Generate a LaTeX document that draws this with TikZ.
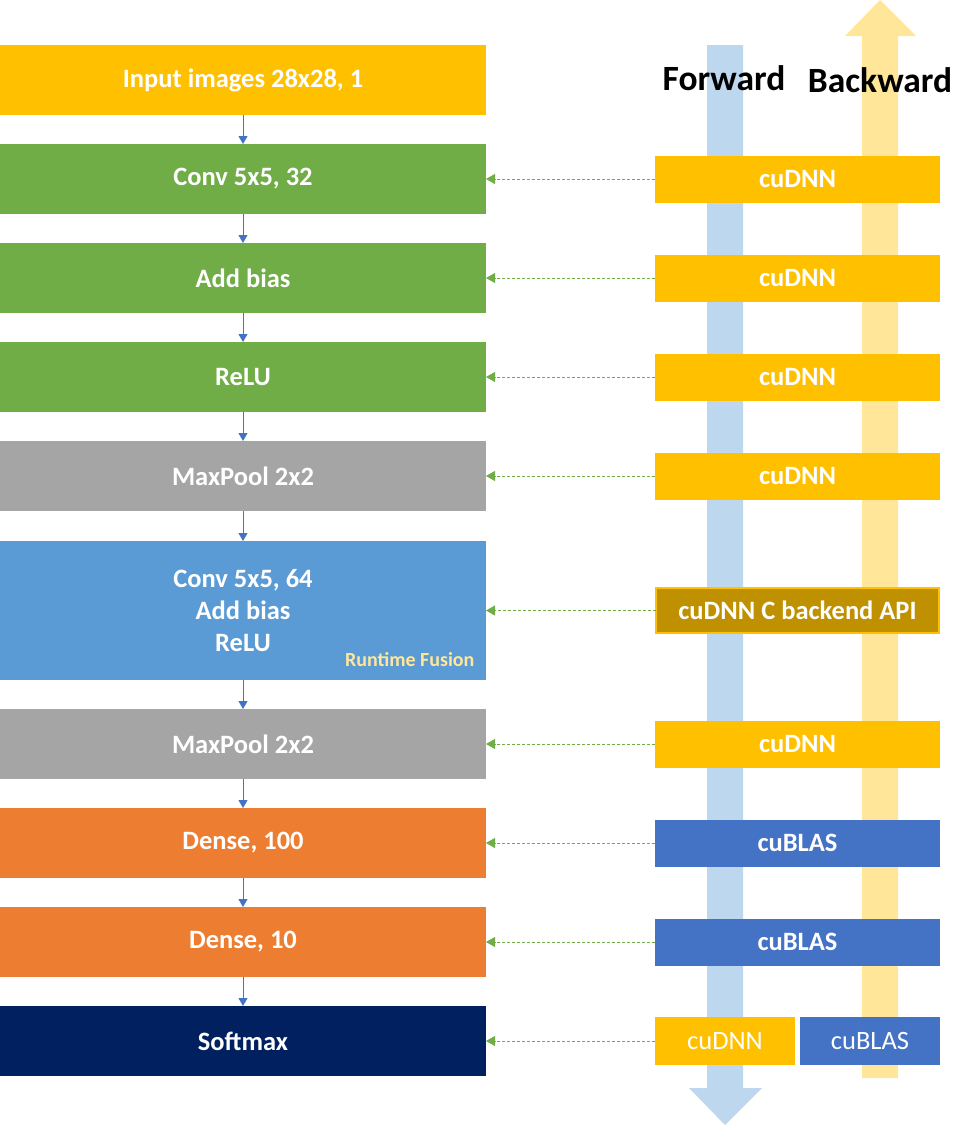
\documentclass[tikz,border=0pt]{standalone}
\usepackage{fontspec}
\setmainfont{Carlito}
\usetikzlibrary{arrows.meta,positioning}
\definecolor{gold}{HTML}{FFC000}
\definecolor{darkgold}{HTML}{BF9000}
\definecolor{leafgreen}{HTML}{70AD47}
\definecolor{stone}{HTML}{A5A5A5}
\definecolor{skyblue}{HTML}{5B9BD5}
\definecolor{tangerine}{HTML}{ED7D31}
\definecolor{navy}{HTML}{002060}
\definecolor{blasblue}{HTML}{4472C4}
\definecolor{fwdblue}{HTML}{BDD7EE}
\definecolor{bwdyellow}{HTML}{FFE699}

\begin{document}
\begin{tikzpicture}[x=1pt, y=-1pt,
    layer/.style={minimum width=486pt, minimum height=70pt, inner sep=0pt, outer sep=0pt, text=white, align=center, font=\fontsize{26.5}{32}\selectfont\bfseries},
    lib/.style={fill=gold, minimum width=285pt, minimum height=47pt, inner sep=0pt, outer sep=0pt, text=white, font=\fontsize{26.5}{30}\selectfont\bfseries},
    dir/.style={font=\fontsize{35.5}{40}\selectfont\bfseries},
    flow/.style={-{Triangle[length=8pt, width=9pt]}, draw=blasblue, line width=1pt},
    call/.style={-{Triangle[length=9pt, width=10pt]}, draw=leafgreen, dash pattern=on 3pt off 2pt, line width=0.8pt},
    node distance=29pt
  ]
    \useasboundingbox (0,0) rectangle (973,1125);
    % big direction arrows behind the library boxes
    \fill[fwdblue] (707,45) -- (743,45) -- (743,1088) -- (762,1088) -- (725,1125) -- (689,1088) -- (707,1088) -- cycle;
    \fill[bwdyellow] (862,1078) -- (898,1078) -- (898,36) -- (916,36) -- (880,0) -- (845,36) -- (862,36) -- cycle;
    \node[dir] (fwd) at (724,78) {Forward};
    \node[dir] (bwd) at (880,80) {Backward};

    % network layers
    \node[layer, fill=gold] (inp) at (243,80) {Input images 28x28, 1};
    \node[layer, fill=leafgreen, below=of inp] (conv1) {Conv 5x5, 32};
    \node[layer, fill=leafgreen, below=of conv1] (bias1) {Add bias};
    \node[layer, fill=leafgreen, below=of bias1] (relu1) {ReLU};
    \node[layer, fill=stone, below=of relu1] (pool1) {MaxPool 2x2};
    \node[layer, fill=skyblue, minimum height=139pt, below=30pt of pool1] (fused) {Conv 5x5, 64\\Add bias\\ReLU};
    \node[anchor=east, text=bwdyellow, font=\fontsize{20}{24}\selectfont\bfseries] (rtf) at (478,660) {Runtime Fusion};
    \node[layer, fill=stone, below=of fused] (pool2) {MaxPool 2x2};
    \node[layer, fill=tangerine, below=of pool2] (dense1) {Dense, 100};
    \node[layer, fill=tangerine, below=of dense1] (dense2) {Dense, 10};
    \node[layer, fill=navy, below=of dense2] (soft) {Softmax};

    % libraries
    \node[lib, right=169pt of conv1] (lib1) {cuDNN};
    \node[lib, right=169pt of bias1] (lib2) {cuDNN};
    \node[lib, right=169pt of relu1] (lib3) {cuDNN};
    \node[lib, right=169pt of pool1] (lib4) {cuDNN};
    \node[lib, fill=darkgold, draw=gold, line width=1.5pt, minimum width=283pt, minimum height=45pt, right=170pt of fused] (lib5) {cuDNN C backend API};
    \node[lib, right=169pt of pool2] (lib6) {cuDNN};
    \node[lib, fill=blasblue, right=169pt of dense1] (lib7) {cuBLAS};
    \node[lib, fill=blasblue, right=169pt of dense2] (lib8) {cuBLAS};
    \node[lib, minimum width=140pt, minimum height=48pt, font=\fontsize{26.5}{30}\selectfont, right=169pt of soft] (lib9) {cuDNN};
    \node[lib, fill=blasblue, minimum width=140pt, minimum height=48pt, font=\fontsize{26.5}{30}\selectfont, right=5pt of lib9] (lib10) {cuBLAS};

    \foreach \a/\b in {inp/conv1, conv1/bias1, bias1/relu1, relu1/pool1, pool1/fused, fused/pool2, pool2/dense1, dense1/dense2, dense2/soft}
      \draw[flow] (\a) -- (\b);
    \foreach \l/\r in {conv1/lib1, bias1/lib2, relu1/lib3, pool1/lib4, fused/lib5, pool2/lib6, dense1/lib7, dense2/lib8, soft/lib9}
      \draw[call] (\r) -- (\l);
  \end{tikzpicture}
\end{document}
